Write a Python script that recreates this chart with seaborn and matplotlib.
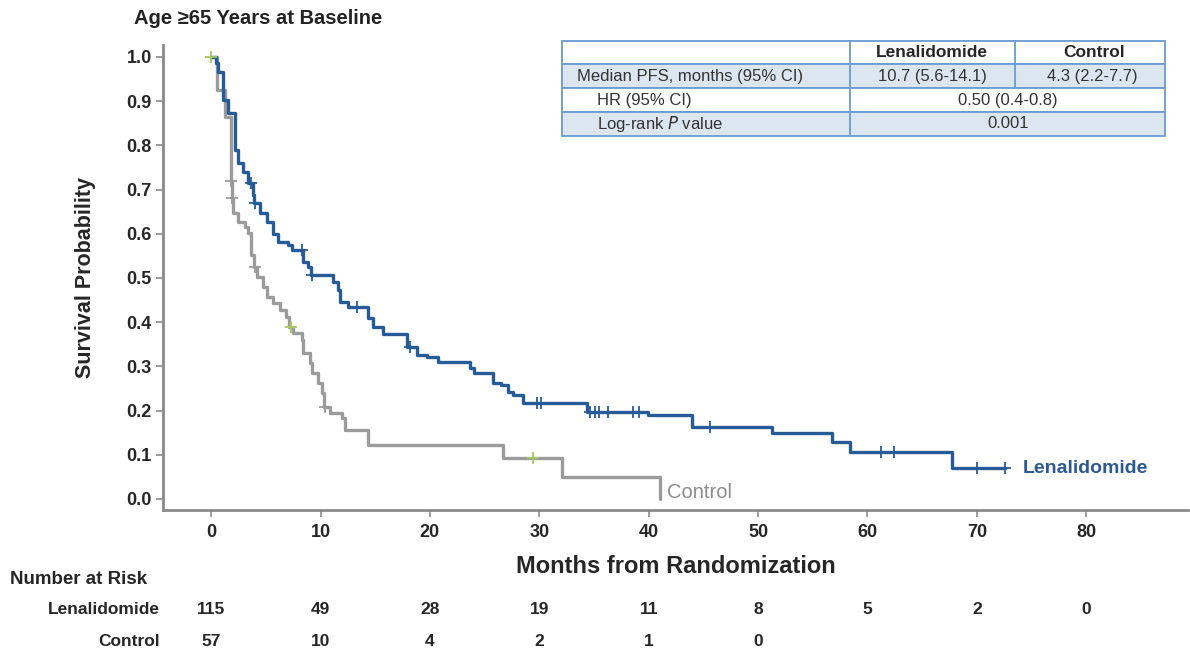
import numpy as np
import pandas as pd
import seaborn as sns
import matplotlib
matplotlib.use("Agg")
import matplotlib.pyplot as plt
from matplotlib.patches import Rectangle
from matplotlib import transforms

# Kaplan-Meier step data (months, survival after the step)
len_t = [0, 0.4, 0.6, 1.1, 1.5, 2.2, 2.5, 2.9, 3.4, 3.8, 3.9, 4.5, 5.1, 5.7, 6.1,
         7.0, 7.4, 8.4, 8.9, 9.1, 11.1, 11.6, 11.8, 12.5, 14.3, 14.8, 15.7, 17.9,
         18.8, 19.7, 20.7, 23.7, 24.0, 25.8, 26.5, 27.1, 27.6, 28.5, 34.4, 39.9,
         44.0, 51.3, 56.8, 58.4, 67.7, 72.6]
len_s = [1.0, 0.986, 0.966, 0.903, 0.873, 0.79, 0.76, 0.74, 0.715, 0.688, 0.67,
         0.647, 0.627, 0.60, 0.581, 0.575, 0.563, 0.536, 0.525, 0.507, 0.491,
         0.473, 0.446, 0.434, 0.41, 0.389, 0.374, 0.344, 0.326, 0.321, 0.31,
         0.296, 0.285, 0.262, 0.258, 0.242, 0.235, 0.217, 0.197, 0.19, 0.163,
         0.149, 0.129, 0.106, 0.07, 0.07]
len_cens = [3.6, 4.0, 8.3, 9.2, 13.3, 18.2, 29.8, 30.2, 34.6, 35.1, 35.5, 36.3,
            38.6, 39.1, 45.6, 61.2, 62.4, 70.0, 72.6]

ctl_t = [0, 0.55, 1.3, 1.8, 1.9, 2.0, 2.5, 3.1, 3.4, 3.6, 3.9, 4.2, 4.75, 5.1,
         5.7, 6.3, 6.8, 7.1, 7.5, 8.3, 8.4, 9.05, 9.2, 9.8, 10.1, 10.3, 10.9,
         12.0, 12.2, 14.3, 26.7, 32.1, 41.0]
ctl_s = [1.0, 0.925, 0.864, 0.72, 0.68, 0.647, 0.627, 0.615, 0.602, 0.552,
         0.525, 0.502, 0.48, 0.457, 0.443, 0.428, 0.412, 0.39, 0.376, 0.36,
         0.33, 0.308, 0.285, 0.262, 0.24, 0.208, 0.195, 0.183, 0.156, 0.122,
         0.093, 0.05, 0.0]
ctl_cens = [1.85, 1.95, 4.0, 10.4]
green_cens = [0, 7.3, 29.4]

months = [0, 10, 20, 30, 40, 50, 60, 70, 80]
risk_len = [115, 49, 28, 19, 11, 8, 5, 2, 0]
risk_ctl = [57, 10, 4, 2, 1, 0]

tbl_header = ["", "Lenalidomide", "Control"]
tbl_rows = ["Median PFS, months (95% CI)", "HR (95% CI)", "Log-rank $\\it{P}$ value"]
tbl_median = ["10.7 (5.6-14.1)", "4.3 (2.2-7.7)"]
tbl_hr = "0.50 (0.4-0.8)"
tbl_p = "0.001"

blue = "#275b98"
grey = "#9b9b9b"
green = "#a6c864"
spine_c = "#8a8a8a"

sns.set_style("white")
plt.rcParams["font.family"] = ["Liberation Sans", "DejaVu Sans"]

W, H = 1190, 650
fig = plt.figure(figsize=(W / 100, H / 100), dpi=100)


def fx(x):
    return x / W


def fy(y):
    return 1 - y / H


ax = fig.add_axes([fx(163), fy(510), fx(1188) - fx(163), fy(45) - fy(510)])


def at(ts, ss, c):
    idx = np.searchsorted(np.array(ts), np.array(c), side="right") - 1
    return np.array(ss)[idx]


df_len = pd.DataFrame({"t": len_t, "s": len_s})
df_ctl = pd.DataFrame({"t": ctl_t, "s": ctl_s})

sns.lineplot(data=df_ctl, x="t", y="s", drawstyle="steps-post", estimator=None,
             sort=False, color=grey, linewidth=2.4, ax=ax)
sns.lineplot(data=df_len, x="t", y="s", drawstyle="steps-post", estimator=None,
             sort=False, color=blue, linewidth=2.4, ax=ax)

sns.scatterplot(x=ctl_cens, y=at(ctl_t, ctl_s, ctl_cens), marker="+", s=70,
                color=grey, linewidth=1.3, ax=ax, zorder=3)
sns.scatterplot(x=green_cens, y=at(ctl_t, ctl_s, green_cens), marker="+", s=70,
                color=green, linewidth=1.3, ax=ax, zorder=4)
sns.scatterplot(x=len_cens, y=at(len_t, len_s, len_cens), marker="+", s=70,
                color=blue, linewidth=1.3, ax=ax, zorder=3)

ax.set_xlim(-4.4, 89.3)
ax.set_ylim(-0.025, 1.027)
ax.set_xticks(months)
ax.set_yticks(np.round(np.arange(0, 1.01, 0.1), 1))
ax.set_yticklabels([f"{v:.1f}" for v in np.arange(0, 1.01, 0.1)])
ax.tick_params(axis="both", which="both", direction="out", length=5, width=1.2,
               color=spine_c, labelsize=13, pad=3, bottom=True, left=True)
ax.tick_params(axis="x", pad=5)
for lab in ax.get_xticklabels() + ax.get_yticklabels():
    lab.set_fontweight("bold")
for side in ["top", "right"]:
    ax.spines[side].set_visible(False)
for side in ["left", "bottom"]:
    ax.spines[side].set_color(spine_c)
    ax.spines[side].set_linewidth(2)

ax.set_xlabel("Months from Randomization", fontsize=17, fontweight="bold", labelpad=10)
ax.set_ylabel("Survival Probability", fontsize=15.5, fontweight="bold", labelpad=22)

ax.text(72.6 + 1.6, len_s[-1], "Lenalidomide", color="#2e5a91", fontsize=14,
        fontweight="bold", va="center", ha="left")
ax.text(41.7, 0.015, "Control", color="#8c8c8c", fontsize=14.5, va="center", ha="left")

fig.text(fx(134), fy(18), "Age \u226565 Years at Baseline", fontsize=14.5,
         fontweight="bold", va="center", ha="left", color="#222222")

# number at risk
trans = transforms.blended_transform_factory(ax.transData, fig.transFigure)
fig.text(fx(10), fy(580), "Number at Risk", fontsize=13.5, fontweight="bold", va="center")
fig.text(fx(160), fy(609), "Lenalidomide", fontsize=12.5, fontweight="bold", va="center", ha="right")
fig.text(fx(160), fy(641), "Control", fontsize=12.5, fontweight="bold", va="center", ha="right")
for m, n in zip(months, risk_len):
    ax.text(m, fy(609), str(n), transform=trans, fontsize=12.5, fontweight="bold",
            ha="center", va="center")
for m, n in zip(months, risk_ctl):
    ax.text(m, fy(641), str(n), transform=trans, fontsize=12.5, fontweight="bold",
            ha="center", va="center")

# summary table
cols = [562, 850, 1015, 1165]
rows = [41, 64, 88, 112, 136]
fills = ["white", "#dce6f1", "white", "#dce6f1"]
edge = "#6a9bd1"
for i, fc in enumerate(fills):
    fig.add_artist(Rectangle((fx(cols[0]), fy(rows[i + 1])), fx(cols[3] - cols[0]),
                             fy(rows[i]) - fy(rows[i + 1]), transform=fig.transFigure,
                             facecolor=fc, edgecolor=edge, linewidth=1.3))
for i in range(4):
    top, bot = fy(rows[i]), fy(rows[i + 1])
    xs = [cols[1], cols[2]] if i < 2 else [cols[1]]
    for c in xs:
        fig.add_artist(plt.Line2D([fx(c), fx(c)], [bot, top], transform=fig.transFigure,
                                  color=edge, linewidth=1.3))


def mid(i):
    return fy((rows[i] + rows[i + 1]) / 2)


tc = "#333333"
fs = 12
fig.text(fx(932), mid(0), tbl_header[1], fontsize=12.5, fontweight="bold", ha="center", va="center")
fig.text(fx(1094), mid(0), tbl_header[2], fontsize=12.5, fontweight="bold", ha="center", va="center")
fig.text(fx(577), mid(1), tbl_rows[0], fontsize=fs, color=tc, ha="left", va="center")
fig.text(fx(597), mid(2), tbl_rows[1], fontsize=fs, color=tc, ha="left", va="center")
fig.text(fx(597), mid(3), tbl_rows[2], fontsize=fs, color=tc, ha="left", va="center")
fig.text(fx(932), mid(1), tbl_median[0], fontsize=fs, color=tc, ha="center", va="center")
fig.text(fx(1092), mid(1), tbl_median[1], fontsize=fs, color=tc, ha="center", va="center")
fig.text(fx(1008), mid(2), tbl_hr, fontsize=fs, color=tc, ha="center", va="center")
fig.text(fx(1008), mid(3), tbl_p, fontsize=fs, color=tc, ha="center", va="center")

fig.savefig("out.png", dpi=100)
